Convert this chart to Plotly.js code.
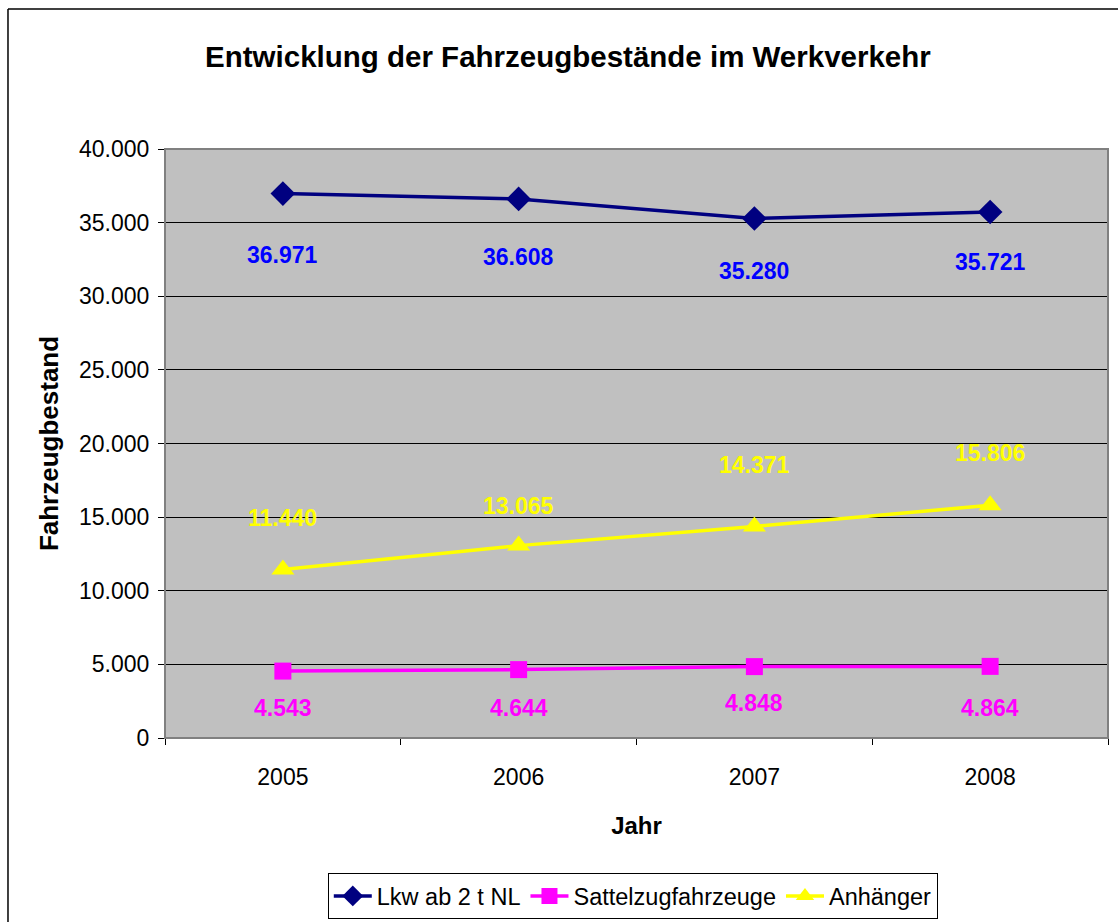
<!DOCTYPE html>
<html>
<head>
<meta charset="utf-8">
<script src="https://cdn.plot.ly/plotly-3.0.1.min.js"></script>
<style>html,body{margin:0;padding:0;background:#fff;}#chart{width:1118px;height:922px;}</style>
</head>
<body>
<div id="chart"></div>
<script>
const years = ["2005", "2006", "2007", "2008"];
const lkw = [36971, 36608, 35280, 35721];
const sattel = [4543, 4644, 4848, 4864];
const anhaenger = [11440, 13065, 14371, 15806];
const seriesNames = ["Lkw ab 2 t NL", "Sattelzugfahrzeuge", "Anhänger"];

// label offsets (px), styling only
const lkwShift = [-61, -58, -52, -50];
const sattelShift = [-37, -38, -36, -42];
const anhShift = [52, 40, 61, 52];

function fmt(v) {
  return String(v).replace(/\B(?=(\d{3})+(?!\d))/g, ".");
}

const FONT = "Liberation Sans, Arial, sans-serif";

const traces = [
  {x: years, y: lkw, name: seriesNames[0], mode: "lines+markers", type: "scatter",
   line: {color: "#000080", width: 3.5}, marker: {symbol: "diamond", size: 19, color: "#000080"}},
  {x: years, y: sattel, name: seriesNames[1], mode: "lines+markers", type: "scatter",
   line: {color: "#FF00FF", width: 3.5}, marker: {symbol: "square", size: 17, color: "#FF00FF"}},
  {x: years, y: anhaenger, name: seriesNames[2], mode: "lines+markers", type: "scatter",
   line: {color: "#FFFF00", width: 3.5}, marker: {symbol: "triangle-up", size: 20, color: "#FFFF00"}}
];

const annotations = [];
function addLabels(vals, shifts, color) {
  for (let i = 0; i < vals.length; i++) {
    annotations.push({
      x: i, y: vals[i], xref: "x", yref: "y",
      text: "<b>" + fmt(vals[i]) + "</b>",
      showarrow: false, xanchor: "center", yanchor: "middle",
      yshift: shifts[i],
      font: {family: FONT, size: 23, color: color}
    });
  }
}
addLabels(lkw, lkwShift, "#0000FF");
addLabels(sattel, sattelShift, "#FF00FF");
addLabels(anhaenger, anhShift, "#FFFF00");

const layout = {
  width: 1118, height: 922,
  margin: {l: 165, r: 10, t: 149, b: 184},
  paper_bgcolor: "#FFFFFF",
  plot_bgcolor: "#C0C0C0",
  separators: ",.",
  font: {family: FONT, size: 23, color: "#000"},
  title: {text: "<b>Entwicklung der Fahrzeugbestände im Werkverkehr</b>", x: 0.508, xanchor: "center",
          y: 0.938, yanchor: "middle", font: {family: FONT, size: 29.5, color: "#000"}},
  showlegend: true,
  legend: {orientation: "h", xref: "container", yref: "container", x: 0.566, xanchor: "center",
           y: 0.053, yanchor: "top",
           bgcolor: "#FFFFFF", bordercolor: "#000", borderwidth: 1, itemwidth: 38,
           font: {family: FONT, size: 23.5, color: "#000"}, traceorder: "normal"},
  xaxis: {type: "category", range: [-0.5, 3.5], tickson: "boundaries", ticks: "outside", ticklen: 6,
          tickcolor: "#000", showgrid: false, showline: true, linecolor: "#000", linewidth: 1,
          zeroline: false, ticklabelstandoff: 18, automargin: false,
          tickfont: {family: FONT, size: 23, color: "#000"},
          title: {text: "<b>Jahr</b>", standoff: 28, font: {family: FONT, size: 24, color: "#000"}}},
  yaxis: {range: [0, 40000], dtick: 5000, tickformat: ",d", ticks: "outside", ticklen: 6,
          tickcolor: "#000", showgrid: true, gridcolor: "#000", gridwidth: 1,
          showline: true, linecolor: "#000", linewidth: 1, zeroline: false, ticklabelstandoff: 4,
          automargin: false,
          tickfont: {family: FONT, size: 23, color: "#000"},
          title: {text: "<b>Fahrzeugbestand</b>", standoff: 12, font: {family: FONT, size: 26, color: "#000"}}},
  annotations: annotations,
  shapes: [
    {type: "rect", xref: "paper", yref: "paper", x0: 0, x1: 1, y0: 0, y1: 1,
     line: {color: "#808080", width: 2}, fillcolor: "rgba(0,0,0,0)", layer: "above"},
    {type: "line", xref: "paper", yref: "paper", x0: -0.1665, x1: -0.1665, y0: -0.33, y1: 1.2377,
     line: {color: "#000", width: 1.5}},
    {type: "line", xref: "paper", yref: "paper", x0: -0.1665, x1: 1.02, y0: 1.2377, y1: 1.2377,
     line: {color: "#000", width: 1.5}}
  ]
};

Plotly.newPlot("chart", traces, layout, {displayModeBar: false, staticPlot: true});
</script>
</body>
</html>
